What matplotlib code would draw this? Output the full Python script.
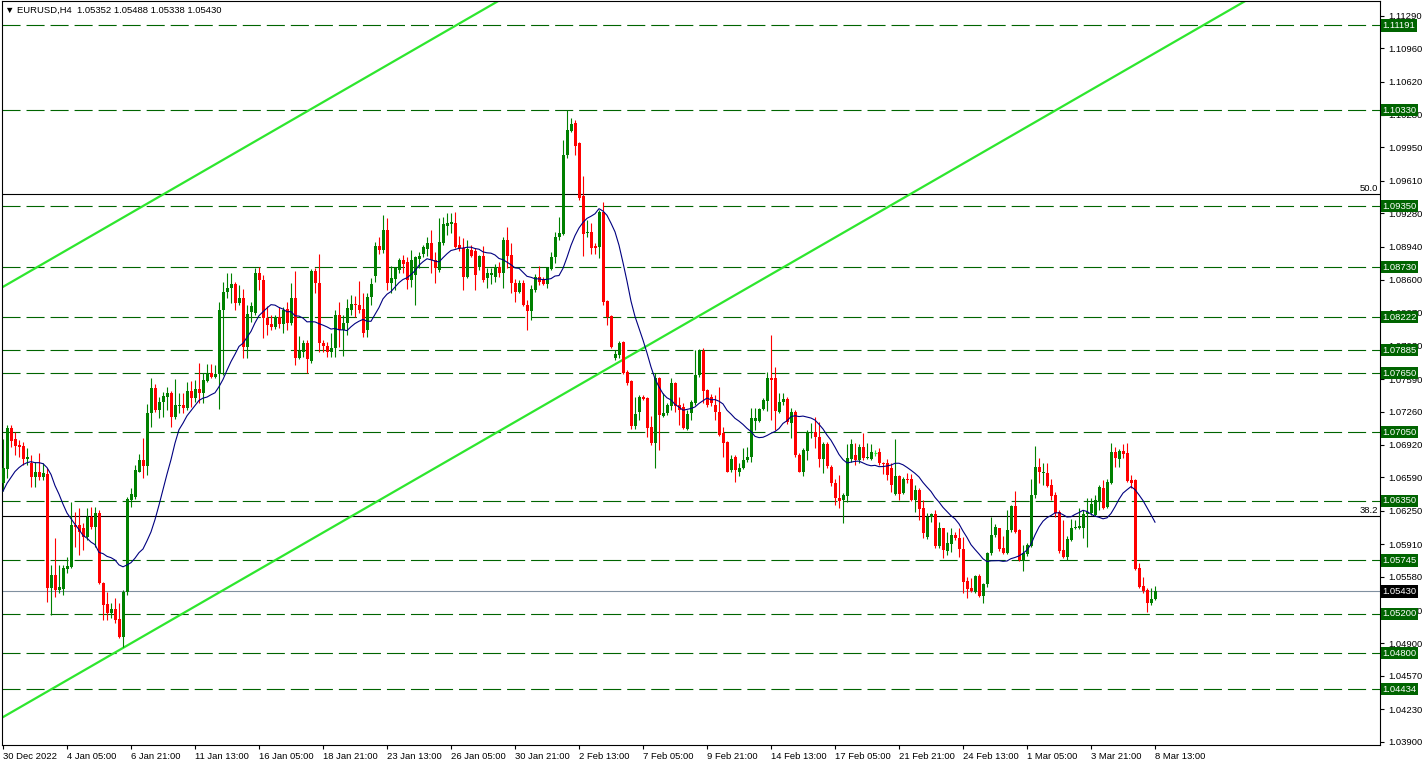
import numpy as np
import pandas as pd
import matplotlib
matplotlib.use("Agg")
import matplotlib.pyplot as plt
import matplotlib.transforms as mtransforms

# EURUSD H4 candles, prices in pips (x 1e-4)
opens = np.array([
    10653, 10668, 10709, 10698, 10692, 10691, 10678, 10674, 10659, 10665,
    10659, 10662, 10546, 10560, 10544, 10545, 10566, 10568, 10611, 10611,
    10608, 10598, 10619, 10609, 10623, 10552, 10530, 10521, 10525, 10515,
    10497, 10542, 10636, 10639, 10665, 10677, 10671, 10725, 10750, 10728,
    10736, 10741, 10745, 10720, 10732, 10733, 10730, 10747, 10740, 10749,
    10745, 10757, 10765, 10761, 10764, 10829, 10848, 10852, 10856, 10837,
    10842, 10792, 10827, 10826, 10867, 10860, 10821, 10815, 10812, 10822,
    10815, 10830, 10816, 10842, 10781, 10787, 10796, 10777, 10869, 10857,
    10796, 10793, 10787, 10791, 10824, 10809, 10816, 10829, 10836, 10835,
    10830, 10809, 10843, 10864, 10895, 10890, 10911, 10857, 10861, 10870,
    10880, 10878, 10860, 10865, 10881, 10886, 10892, 10898, 10880, 10870,
    10898, 10915, 10917, 10918, 10896, 10893, 10863, 10891, 10889, 10873,
    10884, 10862, 10865, 10863, 10873, 10867, 10901, 10885, 10857, 10848,
    10857, 10835, 10828, 10850, 10863, 10861, 10856, 10871, 10883, 10904,
    10907, 10987, 11012, 11020, 10999, 10945, 10908, 10909, 10894, 10894,
    10929, 10839, 10823, 10781, 10784, 10797, 10766, 10757, 10711, 10726,
    10741, 10740, 10710, 10694, 10760, 10722, 10725, 10732, 10755, 10733,
    10731, 10708, 10725, 10735, 10763, 10788, 10748, 10741, 10733, 10726,
    10704, 10695, 10667, 10680, 10665, 10669, 10677, 10680, 10716, 10716,
    10729, 10737, 10760, 10760, 10726, 10736, 10739, 10714, 10726, 10682,
    10665, 10686, 10704, 10705, 10700, 10678, 10693, 10670, 10653, 10638,
    10636, 10640, 10678, 10682, 10677, 10690, 10679, 10678, 10684, 10685,
    10674, 10674, 10669, 10642, 10660, 10643, 10657, 10657, 10636, 10646,
    10628, 10598, 10619, 10622, 10589, 10607, 10584, 10591, 10600, 10597,
    10586, 10554, 10546, 10542, 10559, 10538, 10550, 10582, 10600, 10607,
    10587, 10582, 10605, 10630, 10605, 10574, 10581, 10589, 10641, 10670,
    10663, 10663, 10651, 10641, 10624, 10585, 10578, 10595, 10607, 10608,
    10608, 10622, 10623, 10621, 10634, 10648, 10629, 10653, 10685, 10678,
    10686, 10684, 10656, 10656, 10567, 10548, 10544, 10531, 10535.2]) / 1e4
highs = np.array([
    10698, 10712, 10712, 10705, 10697, 10695, 10689, 10682, 10675, 10684,
    10674, 10669, 10570, 10597, 10570, 10570, 10578, 10634, 10624, 10628,
    10613, 10628, 10629, 10629, 10626, 10553, 10542, 10531, 10536, 10531,
    10544, 10639, 10648, 10672, 10683, 10699, 10734, 10760, 10754, 10741,
    10746, 10751, 10747, 10759, 10745, 10745, 10756, 10757, 10758, 10775,
    10765, 10774, 10774, 10773, 10838, 10858, 10867, 10867, 10858, 10855,
    10851, 10835, 10838, 10872, 10873, 10865, 10833, 10824, 10824, 10832,
    10832, 10838, 10857, 10869, 10803, 10799, 10799, 10871, 10872, 10886,
    10799, 10797, 10806, 10829, 10838, 10824, 10841, 10845, 10844, 10859,
    10847, 10847, 10862, 10899, 10904, 10926, 10923, 10874, 10873, 10882,
    10885, 10883, 10890, 10884, 10888, 10896, 10904, 10911, 10888, 10923,
    10924, 10928, 10928, 10929, 10905, 10903, 10901, 10896, 10893, 10885,
    10895, 10872, 10872, 10876, 10878, 10904, 10914, 10898, 10861, 10860,
    10860, 10840, 10855, 10866, 10874, 10863, 10873, 10888, 10909, 10924,
    11002, 11033, 11025, 11023, 11000, 10966, 10921, 10918, 10898, 10931,
    10939, 10840, 10824, 10789, 10798, 10798, 10768, 10758, 10741, 10743,
    10743, 10741, 10722, 10765, 10761, 10745, 10735, 10760, 10756, 10741,
    10735, 10728, 10738, 10789, 10790, 10791, 10749, 10744, 10743, 10751,
    10710, 10696, 10682, 10682, 10674, 10689, 10690, 10730, 10730, 10730,
    10740, 10766, 10804, 10771, 10745, 10745, 10741, 10730, 10728, 10684,
    10689, 10707, 10714, 10720, 10715, 10695, 10695, 10672, 10657, 10661,
    10643, 10693, 10698, 10694, 10693, 10704, 10694, 10693, 10687, 10689,
    10675, 10678, 10674, 10698, 10661, 10659, 10663, 10662, 10651, 10648,
    10636, 10623, 10623, 10626, 10614, 10608, 10603, 10607, 10603, 10607,
    10598, 10558, 10557, 10560, 10561, 10551, 10583, 10619, 10612, 10608,
    10599, 10626, 10631, 10645, 10606, 10590, 10592, 10657, 10691, 10679,
    10674, 10674, 10657, 10644, 10626, 10616, 10599, 10617, 10616, 10628,
    10626, 10638, 10638, 10641, 10651, 10656, 10657, 10694, 10690, 10688,
    10693, 10694, 10661, 10657, 10572, 10558, 10546, 10546, 10548.8]) / 1e4
lows = np.array([
    10645, 10658, 10690, 10682, 10680, 10672, 10672, 10649, 10649, 10656,
    10656, 10532, 10519, 10537, 10541, 10539, 10562, 10567, 10588, 10580,
    10585, 10595, 10606, 10588, 10550, 10514, 10514, 10516, 10511, 10496,
    10486, 10539, 10629, 10637, 10664, 10658, 10661, 10710, 10726, 10719,
    10720, 10728, 10710, 10718, 10725, 10725, 10728, 10731, 10736, 10735,
    10735, 10756, 10760, 10760, 10729, 10763, 10842, 10837, 10829, 10835,
    10781, 10781, 10817, 10824, 10850, 10801, 10804, 10809, 10810, 10811,
    10806, 10809, 10814, 10773, 10780, 10782, 10765, 10775, 10847, 10787,
    10787, 10782, 10782, 10782, 10792, 10783, 10804, 10824, 10822, 10826,
    10802, 10802, 10835, 10858, 10886, 10887, 10850, 10847, 10850, 10867,
    10867, 10851, 10853, 10834, 10872, 10883, 10884, 10867, 10857, 10868,
    10896, 10906, 10908, 10893, 10889, 10850, 10862, 10883, 10850, 10870,
    10858, 10852, 10856, 10858, 10863, 10852, 10872, 10847, 10838, 10847,
    10833, 10809, 10819, 10848, 10855, 10855, 10852, 10870, 10877, 10901,
    10906, 10984, 11011, 10987, 10941, 10884, 10904, 10886, 10886, 10882,
    10835, 10814, 10791, 10779, 10781, 10764, 10753, 10708, 10708, 10717,
    10738, 10700, 10692, 10669, 10687, 10720, 10723, 10728, 10726, 10712,
    10708, 10707, 10717, 10733, 10761, 10735, 10731, 10732, 10717, 10701,
    10680, 10664, 10665, 10654, 10660, 10668, 10675, 10675, 10707, 10715,
    10728, 10727, 10717, 10707, 10725, 10733, 10713, 10699, 10680, 10664,
    10660, 10677, 10699, 10689, 10670, 10663, 10669, 10650, 10631, 10628,
    10613, 10634, 10675, 10672, 10674, 10677, 10678, 10677, 10681, 10672,
    10662, 10656, 10644, 10641, 10636, 10642, 10653, 10635, 10624, 10616,
    10597, 10596, 10614, 10587, 10587, 10577, 10580, 10583, 10595, 10578,
    10541, 10536, 10542, 10541, 10537, 10531, 10547, 10580, 10598, 10584,
    10581, 10581, 10603, 10602, 10574, 10564, 10579, 10588, 10638, 10653,
    10651, 10649, 10636, 10619, 10582, 10577, 10575, 10594, 10606, 10606,
    10597, 10588, 10621, 10620, 10626, 10627, 10628, 10652, 10670, 10670,
    10679, 10654, 10648, 10565, 10546, 10541, 10522, 10529, 10533.8]) / 1e4
closes = np.array([
    10669, 10709, 10696, 10691, 10690, 10678, 10680, 10659, 10665, 10659,
    10663, 10546, 10560, 10544, 10547, 10567, 10569, 10611, 10609, 10603,
    10598, 10619, 10609, 10623, 10552, 10529, 10521, 10525, 10514, 10497,
    10542, 10637, 10642, 10667, 10677, 10671, 10725, 10750, 10728, 10736,
    10742, 10745, 10720, 10733, 10733, 10730, 10747, 10740, 10749, 10745,
    10758, 10765, 10761, 10764, 10829, 10848, 10852, 10856, 10837, 10842,
    10792, 10825, 10833, 10867, 10860, 10821, 10814, 10812, 10822, 10815,
    10829, 10816, 10842, 10781, 10788, 10796, 10780, 10869, 10857, 10796,
    10793, 10787, 10791, 10824, 10809, 10816, 10831, 10836, 10834, 10829,
    10806, 10843, 10856, 10895, 10890, 10911, 10857, 10862, 10872, 10880,
    10876, 10860, 10880, 10883, 10884, 10894, 10898, 10880, 10872, 10899,
    10917, 10918, 10919, 10894, 10893, 10863, 10892, 10884, 10865, 10884,
    10860, 10867, 10867, 10873, 10867, 10901, 10884, 10857, 10848, 10857,
    10834, 10828, 10851, 10863, 10858, 10856, 10872, 10883, 10904, 10908,
    10987, 11013, 11019, 10996, 10943, 10907, 10909, 10893, 10893, 10929,
    10838, 10822, 10792, 10785, 10796, 10765, 10755, 10711, 10724, 10741,
    10739, 10709, 10694, 10760, 10723, 10725, 10733, 10755, 10732, 10728,
    10709, 10724, 10736, 10763, 10789, 10747, 10733, 10735, 10726, 10702,
    10694, 10665, 10678, 10667, 10669, 10677, 10680, 10719, 10719, 10729,
    10738, 10760, 10758, 10727, 10736, 10739, 10715, 10726, 10682, 10665,
    10687, 10705, 10705, 10700, 10678, 10693, 10671, 10653, 10638, 10635,
    10641, 10679, 10693, 10677, 10690, 10679, 10680, 10685, 10684, 10674,
    10673, 10661, 10651, 10660, 10642, 10657, 10656, 10636, 10646, 10627,
    10602, 10619, 10622, 10589, 10607, 10585, 10592, 10600, 10597, 10586,
    10553, 10545, 10543, 10559, 10538, 10550, 10582, 10600, 10609, 10586,
    10582, 10605, 10630, 10603, 10575, 10582, 10590, 10641, 10670, 10664,
    10665, 10650, 10640, 10623, 10584, 10578, 10596, 10607, 10608, 10609,
    10622, 10624, 10632, 10636, 10649, 10628, 10654, 10685, 10679, 10686,
    10683, 10655, 10653, 10566, 10547, 10543, 10531, 10535, 10543.0]) / 1e4

# first 13 points of the moving average (their history is off-chart)
ma_head = np.array([10645, 10653, 10659, 10665, 10669, 10672, 10674,
                    10675, 10674, 10674, 10673, 10669, 10662]) / 1e4
ma_period = 14

levels = [1.11191, 1.10330, 1.09350, 1.08730, 1.08222, 1.07885, 1.07650,
          1.07050, 1.06350, 1.05745, 1.05200, 1.04800, 1.04434]
fib_levels = [1.09477, 1.06200]
fib_names = ["50.0", "38.2"]
last_price = 1.05430

# trend channel, two anchor points each (bar index, price)
chan_low = [(0, 1.0415), (288, 1.1091)]
chan_high = [(0, 1.0853), (100, 1.1088)]

ytick_vals = [1.11290, 1.10960, 1.10620, 1.10280, 1.09950, 1.09610, 1.09280,
              1.08940, 1.08600, 1.08270, 1.07930, 1.07590, 1.07260, 1.06920,
              1.06590, 1.06250, 1.05910, 1.05580, 1.05240, 1.04900, 1.04570,
              1.04230, 1.03900]
xtick_labels = ["30 Dec 2022", "4 Jan 05:00", "6 Jan 21:00", "11 Jan 13:00",
                "16 Jan 05:00", "18 Jan 21:00", "23 Jan 13:00", "26 Jan 05:00",
                "30 Jan 21:00", "2 Feb 13:00", "7 Feb 05:00", "9 Feb 21:00",
                "14 Feb 13:00", "17 Feb 05:00", "21 Feb 21:00", "24 Feb 13:00",
                "1 Mar 05:00", "3 Mar 21:00", "8 Mar 13:00"]
header = "\u25bc EURUSD,H4  1.05352 1.05488 1.05338 1.05430"

plt.rcParams['font.family'] = ['Liberation Sans', 'DejaVu Sans']
plt.rcParams['lines.scale_dashes'] = False
FS = 6.8
GREEN = "#008000"
RED = "#ff0000"
LVL = "#006400"
LIME = "#2ee62e"

fig = plt.figure(figsize=(14.26, 7.66), dpi=100)
ax = fig.add_axes([2 / 1426, 21 / 766, 1378 / 1426, 744 / 766])

x = np.arange(len(closes))
up = closes > opens
dn = closes < opens
flat = closes == opens

# moving average
ma = pd.Series(closes).rolling(ma_period).mean().to_numpy()
ma[:len(ma_head)] = ma_head

# horizontal levels
for lv in levels:
    ax.axhline(lv, color=LVL, lw=0.8, dashes=(13, 4.3), zorder=1)
for lv in fib_levels:
    ax.axhline(lv, color="black", lw=0.8, zorder=1)
ax.axhline(last_price, color="#8090a0", lw=0.8, zorder=1)

# channel
ax.axline(chan_low[0], chan_low[1], color=LIME, lw=1.6, zorder=2)
ax.axline(chan_high[0], chan_high[1], color=LIME, lw=1.6, zorder=2)

# candles
w = 0.75
body_min = 0.00011
ax.vlines(x[up], lows[up], highs[up], color=GREEN, lw=0.8, zorder=3)
ax.vlines(x[dn], lows[dn], highs[dn], color=RED, lw=0.8, zorder=3)
ax.vlines(x[flat], lows[flat], highs[flat], color=LIME, lw=0.8, zorder=3)
h_up = np.maximum(closes[up] - opens[up], body_min)
h_dn = np.maximum(opens[dn] - closes[dn], body_min)
ax.bar(x[up], h_up, bottom=opens[up], width=w, color=GREEN, lw=0, zorder=4)
ax.bar(x[dn], h_dn, bottom=closes[dn], width=w, color=RED, lw=0, zorder=4)
ax.hlines(closes[flat], x[flat] - w / 2, x[flat] + w / 2, color=LIME, lw=0.8, zorder=4)

ax.plot(x, ma, color="#000080", lw=0.8, zorder=5)

ax.set_xlim(-0.25, 344.25)
ax.set_ylim(1.038659, 1.114398)

# axes style
for s in ax.spines.values():
    s.set_linewidth(0.8)
    s.set_color("black")
ax.yaxis.tick_right()
ax.set_yticks(ytick_vals)
ax.set_yticklabels([f"{v:.5f}" for v in ytick_vals])
ax.tick_params(axis="y", direction="out", length=3, width=0.8, pad=3, labelsize=FS)
ax.set_xticks(np.arange(len(xtick_labels)) * 16)
ax.set_xticklabels(xtick_labels)
for lbl in ax.get_xticklabels():
    lbl.set_ha("left")
ax.tick_params(axis="x", direction="out", length=3, width=0.8, pad=2, labelsize=FS)

trans = mtransforms.blended_transform_factory(ax.transAxes, ax.transData)
box = dict(boxstyle="square,pad=0.18", ec="none")
for lv in levels:
    ax.text(1.0016, lv, f"{lv:.5f}", transform=trans, ha="left", va="center",
            fontsize=FS, color="white", clip_on=False, zorder=10,
            bbox=dict(box, fc=LVL))
ax.text(1.0016, last_price, f"{last_price:.5f}", transform=trans, ha="left",
        va="center", fontsize=FS, color="white", clip_on=False, zorder=10,
        bbox=dict(box, fc="black"))
for lv, name in zip(fib_levels, fib_names):
    ax.text(0.9985, lv + 0.0001, name, transform=trans, ha="right", va="bottom",
            fontsize=FS, color="black", zorder=10)

fig.text(5 / 1426, 1 - 10 / 766, header, fontsize=FS, va="center", ha="left")

fig.savefig("out.png", dpi=100)
